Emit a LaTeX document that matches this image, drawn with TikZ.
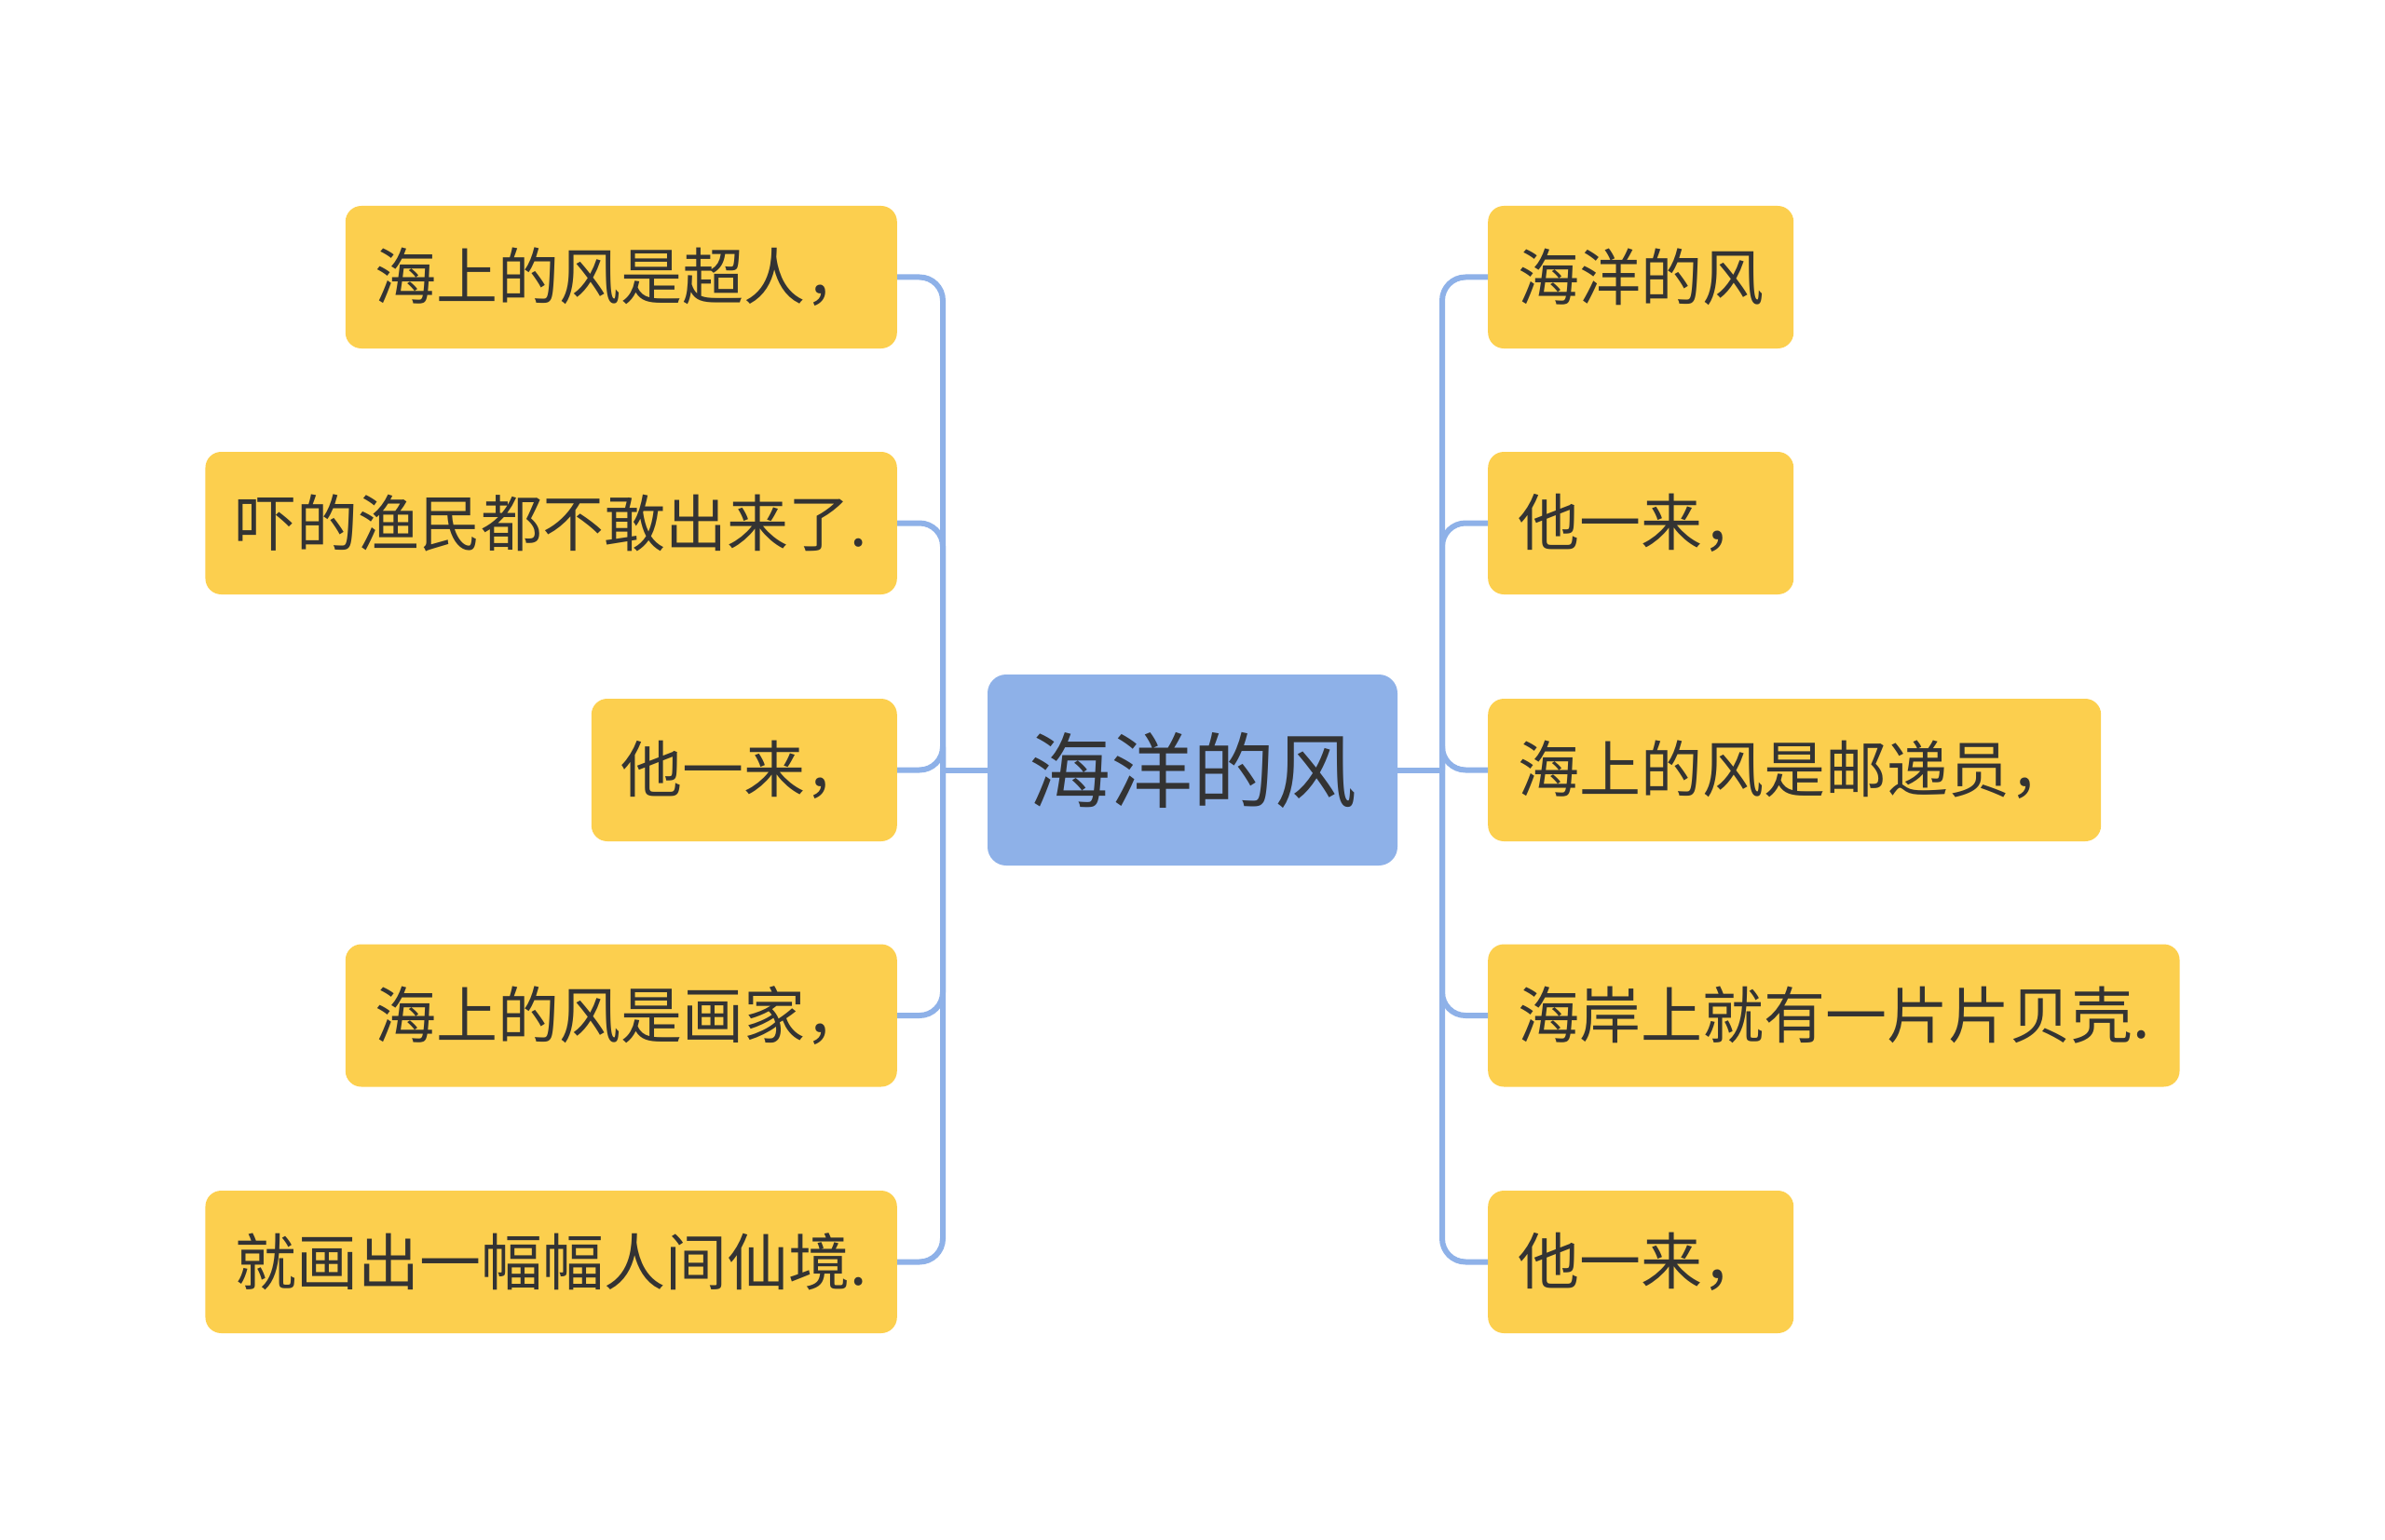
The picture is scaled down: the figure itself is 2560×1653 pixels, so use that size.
\documentclass[tikz,border=0pt]{standalone}
\usepackage{fontspec}
\setmainfont{Noto Sans CJK SC}
\usetikzlibrary{positioning}
\definecolor{mapink}{HTML}{333333}
\definecolor{mapblue}{HTML}{8EB1E8}
\definecolor{mapgold}{HTML}{FCCF4E}

\begin{document}
\begin{tikzpicture}[x=1pt,y=-1pt,
    rootbox/.style={fill=mapblue,rounded corners=20pt,text=mapink,
      inner xsep=44pt,minimum height=205pt,font=\fontsize{88}{100}\selectfont},
    leafbox/.style={fill=mapgold,rounded corners=17pt,text=mapink,
      inner xsep=32pt,minimum height=153pt,font=\fontsize{66}{78}\selectfont},
    link/.style={mapblue,line width=6pt,rounded corners=25pt}]
    \path[use as bounding box] (0,0) rectangle (2560,1653);

    % Central topic.
    \node[rootbox] (root) at (1280,826.5) {海洋的风};

    % Left branch.
    \node[leafbox,anchor=east] (l1) at (963,297.5) {海上的风是超人，};
    \node[leafbox,anchor=east] (l2) at (963,561.5) {吓的渔民都不敢出来了.};
    \node[leafbox,anchor=east] (l3) at (963,826.5) {他一来，};
    \node[leafbox,anchor=east] (l4) at (963,1090) {海上的风是画家，};
    \node[leafbox,anchor=east] (l5) at (963,1354.5) {就画出一幅幅人间仙境.};

    % Right branch.
    \node[leafbox,anchor=west] (r1) at (1597,297.5) {海洋的风};
    \node[leafbox,anchor=west] (r2) at (1597,561.5) {他一来，};
    \node[leafbox,anchor=west] (r3) at (1597,826.5) {海上的风是邮递员，};
    \node[leafbox,anchor=west] (r4) at (1597,1090) {海岸上就有一片片贝壳.};
    \node[leafbox,anchor=west] (r5) at (1597,1354.5) {他一来，};

    % Trunks and elbows.
    \coordinate (jl) at (1012,826.5);
    \coordinate (jr) at (1548,826.5);
    \draw[link] (root.west) -- (jl);
    \draw[link] (root.east) -- (jr);
    \foreach \n in {l1,l2,l3,l4,l5}
      \draw[link] (jl) |- (\n.east);
    \foreach \n in {r1,r2,r3,r4,r5}
      \draw[link] (jr) |- (\n.west);
  \end{tikzpicture}
\end{document}
